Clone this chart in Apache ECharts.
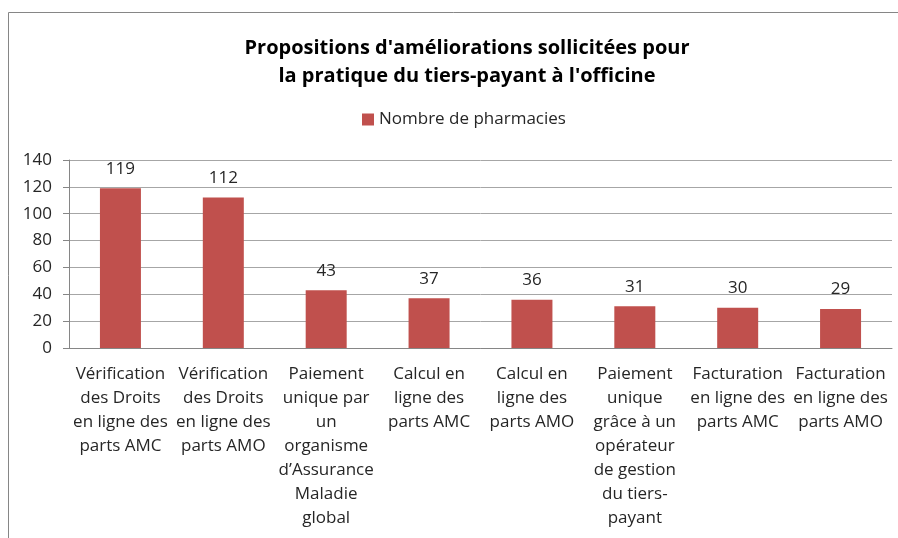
<!DOCTYPE html>
<html>
<head>
<meta charset="utf-8">
<script src="https://cdn.jsdelivr.net/npm/echarts@6/dist/echarts.min.js"></script>
<style>
  html, body { margin: 0; padding: 0; background: #fff; }
  #chart { width: 898px; height: 538px; }
</style>
</head>
<body>
<div id="chart"></div>
<script>
// categories (line breaks as in the source picture)
const categories = [
    'Vérification\ndes Droits\nen ligne des\nparts AMC',
    'Vérification\ndes Droits\nen ligne des\nparts AMO',
    'Paiement\nunique par\nun\norganisme\nd’Assurance\nMaladie\nglobal',
    'Calcul en\nligne des\nparts AMC',
    'Calcul en\nligne des\nparts AMO',
    'Paiement\nunique\ngrâce à un\nopérateur\nde gestion\ndu tiers-\npayant',
    'Facturation\nen ligne des\nparts AMC',
    'Facturation\nen ligne des\nparts AMO'
];
const pharmacies = [119, 112, 43, 37, 36, 31, 30, 29];
const yTicks = [0, 20, 40, 60, 80, 100, 120, 140];

const font = '"Open Sans", Lato, sans-serif';

var myChart = echarts.init(document.getElementById('chart'));

var option = {
    backgroundColor: '#fff',
    animation: false,
    title: {
        text: "Propositions d'améliorations sollicitées pour\nla pratique du tiers-payant à l'officine",
        left: 462,
        top: 29,
        textAlign: 'center',
        textStyle: {
            fontFamily: font,
            fontSize: 20,
            fontWeight: 'bold',
            color: '#000',
            lineHeight: 28
        }
    },
    legend: {
        data: ['Nombre de pharmacies'],
        left: 357,
        top: 106,
        icon: 'rect',
        itemWidth: 12,
        itemHeight: 12,
        itemGap: 5,
        textStyle: { fontFamily: font, fontSize: 17, color: '#262626' }
    },
    graphic: [{
        type: 'polyline',
        shape: { points: [[8.5, 538], [8.5, 12.5], [898, 12.5]] },
        style: { stroke: '#868686', lineWidth: 1, fill: null }
    }],
    grid: {
        left: 69,
        right: 6,
        top: 160,
        bottom: 190
    },
    xAxis: {
        type: 'category',
        data: categories,
        axisLine: { lineStyle: { color: '#868686' } },
        axisTick: { show: false },
        axisLabel: {
            interval: 0,
            margin: 14,
            fontFamily: font,
            fontSize: 17,
            lineHeight: 24,
            color: '#262626'
        }
    },
    yAxis: {
        type: 'value',
        min: yTicks[0],
        max: yTicks[yTicks.length - 1],
        interval: 20,
        axisLine: { show: true, lineStyle: { color: '#868686' } },
        axisTick: { show: true, length: 6, lineStyle: { color: '#868686' } },
        axisLabel: {
            margin: 17,
            fontFamily: font,
            fontSize: 17,
            color: '#262626'
        },
        splitLine: { lineStyle: { color: '#a6a6a6' } }
    },
    series: [{
        name: 'Nombre de pharmacies',
        type: 'bar',
        data: pharmacies,
        barWidth: 41,
        itemStyle: { color: '#c0504d' },
        label: {
            show: true,
            position: 'top',
            distance: 11,
            fontFamily: font,
            fontSize: 17,
            color: '#262626'
        }
    }]
};

myChart.setOption(option);
</script>
</body>
</html>
